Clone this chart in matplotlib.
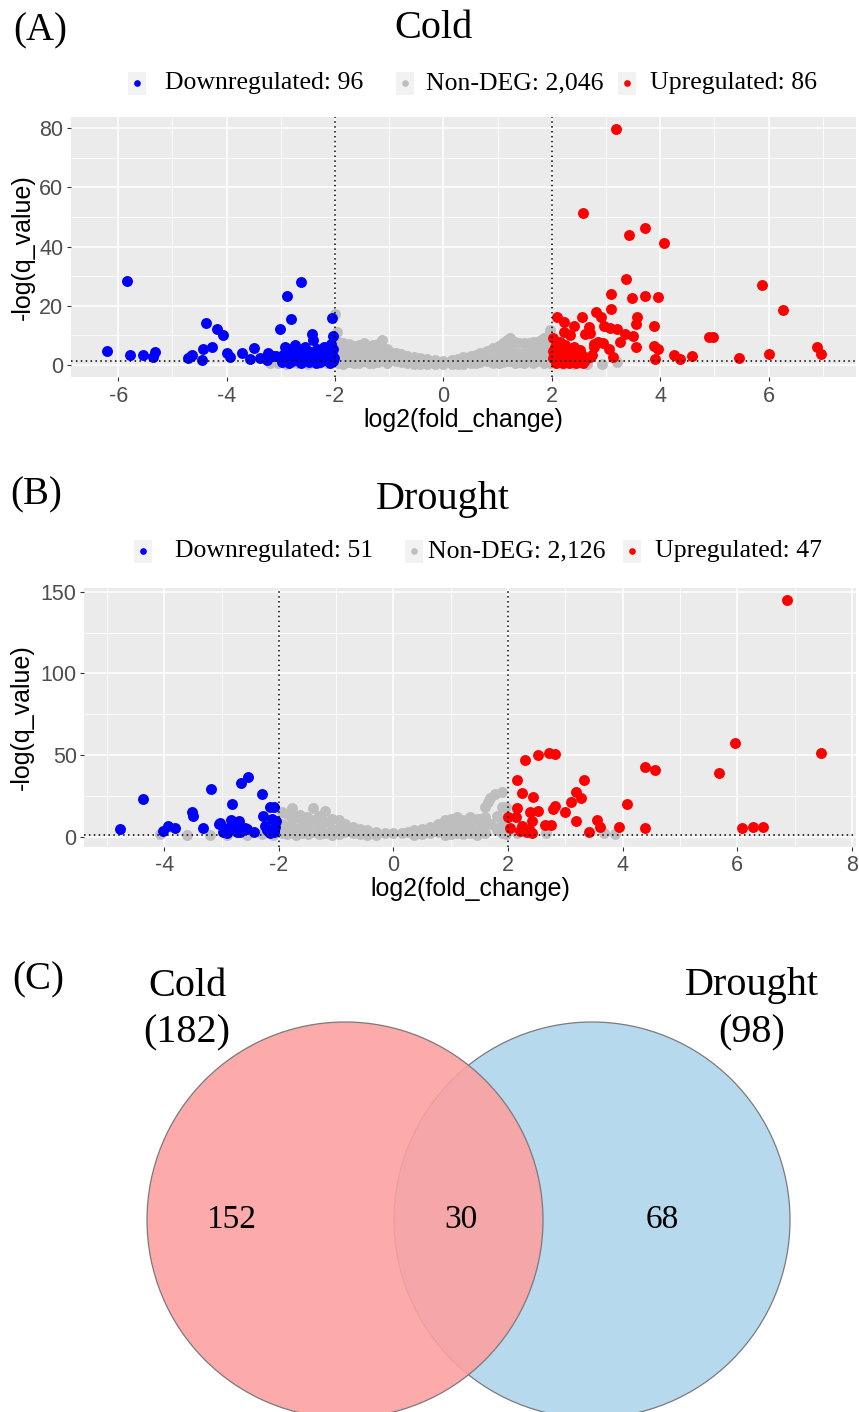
import matplotlib
matplotlib.use("Agg")
import matplotlib.pyplot as plt
import numpy as np
from matplotlib.patches import Circle, Rectangle
from matplotlib.ticker import MultipleLocator

plt.rcParams["font.family"] = ["Liberation Sans", "DejaVu Sans"]
plt.rcParams["axes.unicode_minus"] = False

SERIF = ["Liberation Serif", "DejaVu Serif"]

# ---- values ----
legend_labels = ["Downregulated", "Non-DEG", "Upregulated"]
cold_counts = [96, 2046, 86]
drought_counts = [51, 2126, 47]

cold_xticks = [-6, -4, -2, 0, 2, 4, 6]
cold_yticks = [0, 20, 40, 60, 80]
drought_xticks = [-4, -2, 0, 2, 4, 6, 8]
drought_yticks = [0, 50, 100, 150]

# panel A (Cold): (log2 fold change, -log q)
cold_down = [
    (-6.21, 4.8), (-5.83, 28.4), (-5.78, 3.4), (-5.54, 3.4), (-5.36, 2.7), (-5.32, 4.5),
    (-4.72, 2.5), (-4.66, 3.0), (-4.63, 3.4), (-4.46, 1.7), (-4.44, 5.4), (-4.38, 14.3),
    (-4.26, 6.2), (-4.17, 12.3), (-4.06, 10.1), (-4.0, 4.2), (-3.94, 2.8), (-3.72, 3.9),
    (-3.57, 1.9), (-3.49, 5.8), (-3.39, 2.5), (-3.26, 1.7), (-3.23, 3.9), (-3.08, 3.1),
    (-3.01, 12.2), (-2.92, 6.0), (-2.89, 23.4), (-2.82, 15.4), (-2.74, 6.8), (-2.63, 28.0),
    (-2.43, 10.5), (-2.40, 8.4), (-2.06, 15.8), (-2.03, 9.8), (-2.98, 1.0), (-2.95, 3.5),
    (-2.9, 2.0), (-2.86, 4.5), (-2.8, 1.2), (-2.77, 3.0), (-2.7, 5.0), (-2.68, 2.0),
    (-2.62, 0.8), (-2.6, 3.8), (-2.55, 6.0), (-2.52, 2.5), (-2.48, 1.0), (-2.45, 4.5),
    (-2.4, 3.0), (-2.37, 1.5), (-2.34, 5.5), (-2.3, 2.2), (-2.27, 0.9), (-2.25, 3.8),
    (-2.2, 6.2), (-2.18, 1.8), (-2.15, 4.8), (-2.12, 2.8), (-2.1, 0.8), (-2.07, 7.0),
    (-2.05, 3.5), (-2.04, 5.5), (-2.03, 1.5), (-2.02, 2.5), (-2.85, 0.7), (-2.65, 1.0),
    (-2.35, 0.7), (-2.55, 4.2), (-2.92, 4.0), (-3.15, 3.0), (-2.78, 5.5),
]
cold_nondeg = [
    (-3.2, 0.6), (-3.05, 0.8), (-2.9, 0.5), (-2.7, 0.6), (-2.5, 0.5), (-2.3, 0.7), (-2.15, 0.6),
    (-2.0, 17.1), (-1.96, 11.0), (-1.97, 8.0), (-1.95, 5.5), (-1.95, 3.0), (-1.95, 0.8),
    (-1.85, 7.5), (-1.85, 4.5), (-1.85, 1.5), (-1.85, 0.5), (-1.75, 7.0), (-1.75, 4.0),
    (-1.75, 1.0), (-1.65, 6.5), (-1.65, 3.5), (-1.65, 0.8), (-1.55, 6.8), (-1.55, 3.8),
    (-1.55, 0.8), (-1.47, 7.3), (-1.47, 4.0), (-1.47, 1.2), (-1.38, 6.5), (-1.38, 3.2),
    (-1.38, 0.6), (-1.29, 6.8), (-1.29, 3.5), (-1.29, 0.8), (-1.2, 7.0), (-1.2, 4.0),
    (-1.2, 1.0), (-1.14, 8.4), (-1.14, 5.0), (-1.14, 2.0), (-1.05, 5.5), (-1.05, 2.8),
    (-1.05, 0.6), (-0.98, 4.5), (-0.98, 1.8), (-0.88, 4.0), (-0.88, 1.2), (-0.78, 3.6),
    (-0.78, 0.9), (-0.68, 3.1), (-0.68, 0.7), (-0.55, 2.7), (-0.55, 0.5), (-0.43, 2.3),
    (-0.43, 0.4), (-0.3, 1.9), (-0.3, 0.3), (-0.15, 1.6), (-0.15, 0.3), (0.0, 1.5),
    (0.0, 0.3), (0.15, 1.8), (0.15, 0.3), (0.27, 2.2), (0.27, 0.4), (0.37, 2.6),
    (0.37, 0.5), (0.5, 3.1), (0.5, 0.6), (0.6, 3.5), (0.6, 0.7), (0.68, 3.9), (0.68, 1.0),
    (0.8, 4.6), (0.8, 1.5), (0.92, 5.6), (0.92, 2.2), (0.92, 0.6), (1.02, 6.5), (1.02, 3.0),
    (1.02, 0.8), (1.1, 7.5), (1.1, 4.0), (1.1, 1.0), (1.17, 8.4), (1.17, 4.5), (1.17, 1.2),
    (1.23, 9.0), (1.23, 5.0), (1.23, 1.5), (1.32, 7.8), (1.32, 4.0), (1.32, 0.8),
    (1.4, 7.3), (1.4, 3.8), (1.4, 1.0), (1.48, 7.3), (1.48, 4.2), (1.48, 0.8), (1.57, 7.6),
    (1.57, 4.0), (1.57, 1.2), (1.65, 7.9), (1.65, 4.5), (1.65, 0.8), (1.72, 7.9),
    (1.72, 4.5), (1.72, 1.5), (1.8, 8.5), (1.8, 5.0), (1.8, 2.0), (1.86, 9.2), (1.86, 6.0),
    (1.86, 3.0), (1.86, 0.8), (1.91, 9.6), (1.91, 6.5), (1.96, 11.8), (1.96, 8.0),
    (1.96, 4.0), (1.96, 0.8), (2.2, 0.5), (2.4, 0.4), (2.62, 0.6), (2.65, 0.3),
    (2.92, 0.5), (3.2, 1.1),
]
cold_up = [
    (3.19, 79.6), (2.57, 51.5), (3.71, 46.4), (3.43, 43.9), (4.07, 41.3), (3.36, 29.2),
    (5.88, 27.0), (3.10, 23.9), (3.47, 22.5), (3.72, 23.4), (3.96, 23.1), (6.27, 18.6),
    (3.10, 18.8), (2.81, 17.8), (2.91, 16.1), (2.09, 16.1), (2.22, 14.6), (2.55, 16.1),
    (3.57, 16.1), (3.56, 13.9), (2.40, 13.3), (2.97, 13.2), (3.08, 12.4), (3.21, 12.2),
    (3.88, 13.3), (3.34, 10.5), (3.49, 9.9), (2.68, 12.9), (2.62, 10.5), (2.71, 10.9),
    (2.22, 11.3), (4.90, 9.4), (4.97, 9.4), (2.03, 9.0), (3.26, 7.7), (2.94, 7.3),
    (2.86, 7.9), (2.78, 7.1), (3.56, 6.0), (3.88, 6.4), (3.96, 5.3), (6.89, 6.0),
    (6.97, 3.7), (6.01, 3.7), (5.45, 2.5), (4.59, 2.9), (4.25, 3.3), (4.36, 1.9),
    (3.91, 1.9), (3.05, 5.3), (3.13, 2.8), (2.77, 6.2), (2.74, 3.4), (2.34, 10.1),
    (2.15, 7.9), (2.25, 6.8), (2.06, 6.2), (2.40, 6.0), (2.52, 5.1), (2.12, 4.0),
    (2.28, 3.4), (2.43, 3.0), (2.55, 3.4), (2.71, 2.8), (2.03, 2.3), (2.15, 1.9),
    (2.34, 1.7), (2.49, 1.9), (2.62, 1.7), (2.02, 4.8), (2.08, 0.8), (2.2, 0.6),
    (2.32, 0.7), (2.45, 0.6), (2.58, 0.8), (2.05, 3.2), (2.18, 5.2), (2.3, 4.8),
    (2.1, 2.8), (2.38, 2.2),
]

# panel B (Drought)
drought_down = [
    (-4.78, 4.5), (-4.37, 23.1), (-4.03, 3.4), (-3.93, 6.5), (-3.82, 5.1), (-3.52, 15.2),
    (-3.50, 12.8), (-3.32, 5.1), (-3.19, 29.0), (-3.02, 8.4), (-2.98, 2.6), (-2.81, 19.8),
    (-2.83, 10.4), (-2.66, 32.9), (-2.53, 36.6), (-2.69, 9.5), (-2.76, 6.1), (-2.56, 4.5),
    (-2.43, 3.1), (-2.29, 26.0), (-2.27, 12.9), (-2.24, 6.3), (-2.15, 18.4), (-2.08, 17.9),
    (-2.12, 11.0), (-2.09, 3.1), (-2.21, 4.1), (-2.88, 5.1), (-2.91, 2.4), (-2.73, 3.1),
    (-3.05, 8.0), (-2.59, 5.1), (-2.06, 6.1), (-2.15, 2.4), (-2.68, 3.1), (-2.79, 6.1),
    (-2.05, 9.5),
]
drought_nondeg = [
    (-4.07, 1.6), (-3.6, 1.0), (-3.2, 1.2), (-2.9, 1.0), (-2.56, 1.0), (-2.3, 1.5), (-2.1, 1.0),
    (-1.95, 15.3), (-1.95, 8.0), (-1.95, 2.0), (-1.85, 14.0), (-1.85, 6.0), (-1.85, 1.5),
    (-1.77, 17.6), (-1.77, 10.0), (-1.77, 3.0), (-1.7, 12.0), (-1.7, 5.0), (-1.7, 1.0),
    (-1.63, 13.3), (-1.6, 7.0), (-1.6, 2.0), (-1.51, 12.2), (-1.5, 6.0), (-1.5, 1.5),
    (-1.41, 17.4), (-1.41, 10.0), (-1.4, 3.0), (-1.3, 12.5), (-1.3, 6.0), (-1.3, 1.5),
    (-1.19, 16.0), (-1.19, 9.0), (-1.2, 2.5), (-1.08, 11.0), (-1.08, 5.0), (-1.08, 1.0),
    (-0.95, 10.5), (-0.95, 5.0), (-0.95, 1.5), (-0.85, 8.0), (-0.85, 3.0), (-0.7, 6.1),
    (-0.7, 2.0), (-0.58, 5.0), (-0.58, 1.5), (-0.46, 4.1), (-0.46, 1.2), (-0.3, 3.0),
    (-0.3, 1.0), (-0.15, 2.3), (0.0, 2.0), (0.15, 2.5), (0.25, 3.2), (0.35, 4.1),
    (0.35, 1.2), (0.5, 4.8), (0.5, 1.5), (0.64, 5.7), (0.64, 2.0), (0.78, 8.0), (0.78, 3.0),
    (0.9, 10.2), (0.9, 4.0), (0.9, 1.2), (1.0, 11.0), (1.0, 5.0), (1.0, 1.5), (1.11, 12.2),
    (1.11, 6.0), (1.11, 2.0), (1.22, 10.5), (1.22, 5.0), (1.22, 1.5), (1.34, 12.2),
    (1.34, 6.0), (1.34, 2.0), (1.45, 11.0), (1.45, 5.0), (1.45, 1.2), (1.51, 10.7),
    (1.55, 6.0), (1.6, 18.4), (1.6, 12.0), (1.6, 2.0), (1.65, 21.0), (1.69, 24.0),
    (1.7, 8.0), (1.77, 26.1), (1.8, 13.0), (1.8, 4.0), (1.89, 27.6), (1.9, 18.0),
    (1.9, 8.0), (1.9, 2.0), (1.97, 18.4), (1.97, 12.0), (1.97, 5.0), (1.97, 1.5),
    (2.15, 2.1), (2.3, 3.1), (2.66, 2.1), (3.68, 2.1), (3.87, 1.6),
]
drought_up = [
    (6.87, 144.9), (5.96, 57.2), (7.46, 51.1), (5.68, 39.2), (4.38, 42.9), (4.57, 40.8),
    (4.07, 20.0), (6.08, 5.1), (6.28, 5.8), (6.45, 5.8), (4.38, 5.1), (3.94, 6.1),
    (2.29, 46.8), (2.53, 50.0), (2.71, 51.4), (2.81, 50.8), (2.15, 34.7), (3.33, 34.7),
    (3.18, 27.6), (3.28, 23.9), (3.10, 21.1), (3.00, 14.9), (2.82, 19.0), (2.78, 16.8),
    (2.44, 24.1), (2.25, 26.6), (2.53, 15.9), (2.39, 14.9), (2.16, 17.4), (2.00, 11.9),
    (2.14, 12.2), (2.42, 9.8), (3.18, 9.4), (3.55, 10.2), (3.60, 6.1), (3.42, 3.1),
    (2.65, 7.2), (2.75, 7.2), (2.24, 6.5), (2.04, 5.1), (2.36, 4.5), (2.42, 2.4),
    (2.21, 3.7), (2.33, 3.1),
]

# Venn diagram
venn_names = ["Cold", "Drought"]
venn_totals = [182, 98]
venn_regions = [152, 30, 68]  # cold only, both, drought only

COLORS = ["#0000FF", "#BEBEBE", "#FF0000"]
FC_CUT = 2
Q_CUT = 1.3  # -log10(0.05)


def volcano(ax, groups, xlim, ylim, xticks, yticks, yminor):
    ax.set_facecolor("#EBEBEB")
    # grey first, then blue and red on top
    for idx in (1, 0, 2):
        pts = np.array(groups[idx])
        ax.scatter(pts[:, 0], pts[:, 1], s=62, c=COLORS[idx], linewidths=0, zorder=2)
    ax.axvline(-FC_CUT, color="black", ls=(0, (1, 2.2)), lw=1.1, zorder=3)
    ax.axvline(FC_CUT, color="black", ls=(0, (1, 2.2)), lw=1.1, zorder=3)
    ax.axhline(Q_CUT, color="black", ls=(0, (1, 2.2)), lw=1.1, zorder=3)
    ax.set_xlim(*xlim)
    ax.set_ylim(*ylim)
    ax.set_xticks(xticks)
    ax.set_yticks(yticks)
    ax.xaxis.set_minor_locator(MultipleLocator(1))
    ax.yaxis.set_minor_locator(MultipleLocator(yminor))
    ax.grid(which="major", color="white", lw=1.1)
    ax.grid(which="minor", color="white", lw=0.55)
    ax.set_axisbelow(True)
    for sp in ax.spines.values():
        sp.set_visible(False)
    ax.tick_params(which="minor", length=0)
    ax.tick_params(which="major", length=2.75, width=0.8, color="#333333",
                   labelcolor="#4D4D4D", labelsize=15.5)
    ax.tick_params(axis="y", pad=2.5)
    ax.tick_params(axis="x", pad=3.5)
    ax.set_xlabel("log2(fold_change)", fontsize=18, color="black")
    ax.set_ylabel("-log(q_value)", fontsize=18, color="black")


fig = plt.figure(figsize=(8.59, 14.12), dpi=100)
W, H = 859, 1412

axA = fig.add_axes([70.7 / W, 1 - 377 / H, 785.3 / W, 260 / H])
volcano(axA, [cold_down, cold_nondeg, cold_up], (-6.875, 7.61), (-4.05, 83.8),
        cold_xticks, cold_yticks, 10)
axA.xaxis.set_label_coords(0.5, -0.118)
axA.yaxis.set_label_coords(-0.046, 0.5)

axB = fig.add_axes([84 / W, 1 - 846.7 / H, 772 / W, 258.4 / H])
volcano(axB, [drought_down, drought_nondeg, drought_up], (-5.40, 8.07), (-6.1, 152.1),
        drought_xticks, drought_yticks, 25)
axB.xaxis.set_label_coords(0.5, -0.118)
axB.yaxis.set_label_coords(-0.065, 0.5)

# overlay in pixel units for titles, legends and the Venn diagram
ov = fig.add_axes([0, 0, 1, 1])
ov.set_xlim(0, W)
ov.set_ylim(H, 0)
ov.axis("off")
ov.patch.set_visible(False)


def header(tag, tag_xy, title, title_xy, counts, row_y, key_x, text_x):
    ov.text(*tag_xy, tag, family=SERIF, fontsize=28, ha="center", va="center")
    ov.text(*title_xy, title, family=SERIF, fontsize=29, ha="center", va="center")
    for i in range(3):
        ov.add_patch(Rectangle((key_x[i] - 9, row_y - 11.5), 18, 23,
                               facecolor="#F2F2F2", edgecolor="none"))
        ov.plot(key_x[i], row_y, "o", ms=4.8, color=COLORS[i], mew=0)
        ov.text(text_x[i], row_y, f"{legend_labels[i]}: {counts[i]:,}",
                family=SERIF, fontsize=18.5, ha="left", va="center")


header("(A)", (40, 31), "Cold", (434, 29), cold_counts, 83,
       (137, 405, 627), (165, 426, 650))
header("(B)", (36, 495), "Drought", (443, 500), drought_counts, 551,
       (143, 414, 632), (175, 428, 655))

# (C) Venn diagram
ov.text(38, 980, "(C)", family=SERIF, fontsize=28, ha="center", va="center")
ov.add_patch(Circle((592, 1220), 198, facecolor="#B7D9EE", edgecolor="#7A7A7A", lw=0.9))
ov.add_patch(Circle((345, 1220), 198, facecolor=(252 / 255, 161 / 255, 161 / 255, 0.9),
                    edgecolor="#7A7A7A", lw=0.9))
ov.text(187, 986, venn_names[0], family=SERIF, fontsize=29, ha="center", va="center")
ov.text(187, 1033, f"({venn_totals[0]})", family=SERIF, fontsize=29, ha="center", va="center")
ov.text(752, 986, venn_names[1], family=SERIF, fontsize=29, ha="center", va="center")
ov.text(752, 1033, f"({venn_totals[1]})", family=SERIF, fontsize=29, ha="center", va="center")
for x, n in zip((231, 461, 662), venn_regions):
    ov.text(x, 1220, str(n), family=SERIF, fontsize=24, ha="center", va="center")

fig.savefig("out.png", dpi=100)
